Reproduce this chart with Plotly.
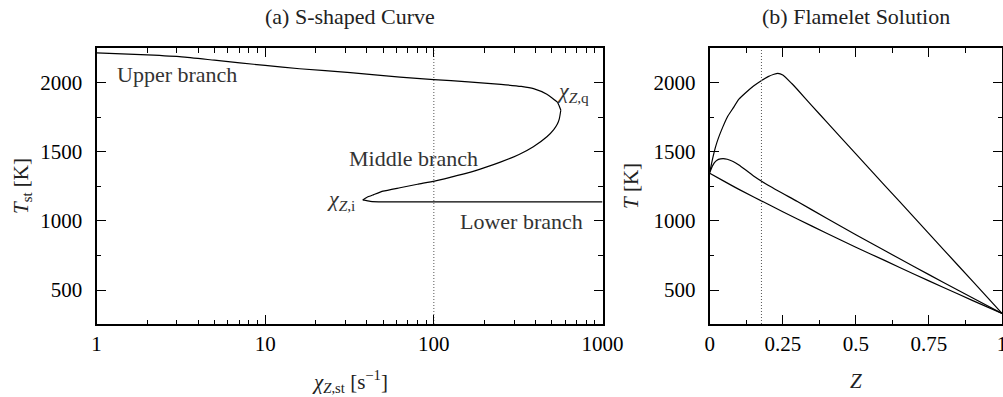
import numpy as np
import plotly.graph_objects as go

# ---- (a) S-shaped curve: stoichiometric temperature vs. scalar dissipation rate ----
chi_upper = [1, 2, 3.2, 5, 10, 16, 32, 63, 100, 160, 250, 330, 390, 468, 540, 566]
T_upper = [2215, 2200, 2186, 2162, 2124, 2100, 2072, 2040, 2022, 2005, 1987, 1972, 1956, 1915, 1858, 1800]

chi_middle = [566, 555, 540, 514, 468, 389, 320, 248, 200, 157, 125, 101, 80, 63, 50, 44, 40, 37.9]
T_middle = [1800, 1740, 1700, 1660, 1608, 1536, 1480, 1425, 1385, 1345, 1315, 1288, 1265, 1240, 1215, 1190, 1170, 1152]

chi_lower = [37.9, 42, 50, 100, 1000]
T_lower = [1152, 1142, 1138, 1138, 1138]

chi_ref = 100  # selected dissipation rate (dotted line)

# ---- (b) flamelet solutions T(Z) on the three branches ----
Z_burning = [0, 0.01, 0.02, 0.03, 0.045, 0.06, 0.08, 0.1, 0.125, 0.15, 0.175, 0.2, 0.22, 0.233,
             0.25, 0.28, 0.3, 0.35, 0.4, 0.5, 0.6, 0.7, 0.8, 0.9, 1.0]
T_burning = [1350, 1450, 1535, 1600, 1680, 1750, 1815, 1880, 1930, 1975, 2012, 2043, 2060, 2067,
             2055, 1995, 1950, 1832, 1716, 1484, 1254, 1024, 793, 563, 332]

Z_unstable = [0, 0.01, 0.02, 0.03, 0.046, 0.06, 0.08, 0.1, 0.15, 0.2, 0.3, 0.4, 0.5, 0.6, 0.7, 0.8, 0.9, 1.0]
T_unstable = [1350, 1400, 1430, 1445, 1451, 1446, 1430, 1405, 1325, 1258, 1140, 1020, 900, 784, 669, 555, 443, 332]

Z_extinct = [0, 0.05, 0.1, 0.2, 0.3, 0.4, 0.5, 0.6, 0.7, 0.8, 0.9, 1.0]
T_extinct = [1345, 1286, 1228, 1120, 1014, 911, 810, 713, 615, 519, 424, 332]

Z_st = 0.177  # stoichiometric mixture fraction (dotted line)

T_range = [255, 2250]

x_ticks_a = [1, 10, 100, 1000]
x_ticks_a_text = ["1", "10", "100", "1000"]
x_ticks_b = [0, 0.25, 0.5, 0.75, 1]
x_ticks_b_text = ["0", "0.25", "0.5", "0.75", "1"]
y_ticks = [500, 1000, 1500, 2000]
y_ticks_text = ["500", "1000", "1500", "2000"]

FONT = "'Liberation Serif', 'DejaVu Serif', 'Times New Roman', serif"
W, H = 1003, 397

line_style = dict(color="black", width=1.2)
dot_style = dict(color="#555555", width=1, dash="1px,2px")

fig = go.Figure()

for xs, ys in [(chi_upper, T_upper), (chi_middle, T_middle), (chi_lower, T_lower)]:
    fig.add_trace(go.Scatter(x=xs, y=ys, mode="lines", line=dict(**line_style, shape="spline", smoothing=0.5),
                             xaxis="x", yaxis="y", showlegend=False, hoverinfo="skip"))
fig.add_trace(go.Scatter(x=[chi_ref, chi_ref], y=T_range, mode="lines", line=dot_style,
                         xaxis="x", yaxis="y", showlegend=False, hoverinfo="skip"))

for xs, ys in [(Z_burning, T_burning), (Z_unstable, T_unstable), (Z_extinct, T_extinct)]:
    fig.add_trace(go.Scatter(x=xs, y=ys, mode="lines", line=dict(**line_style, shape="spline", smoothing=0.5),
                             xaxis="x2", yaxis="y2", showlegend=False, hoverinfo="skip"))
fig.add_trace(go.Scatter(x=[Z_st, Z_st], y=T_range, mode="lines", line=dot_style,
                         xaxis="x2", yaxis="y2", showlegend=False, hoverinfo="skip"))

tick_font = dict(family=FONT, size=21, color="black")
common = dict(showline=True, linecolor="black", linewidth=2, mirror="allticks",
              ticks="inside", ticklen=9, tickwidth=1.3, tickcolor="black",
              showgrid=False, zeroline=False, tickfont=tick_font, automargin=False,
              ticklabeloverflow="allow")
minor_common = dict(ticks="inside", ticklen=4.5, tickwidth=1.2, tickcolor="black", showgrid=False)

minor_log = [m * 10 ** k for k in range(3) for m in range(2, 10)]

# plot areas in pixels
ax_a = (96.5, 602.5)
ax_b = (709.7, 1002)
ax_y = (48, 324)
xd_a = [ax_a[0] / W, ax_a[1] / W]
xd_b = [ax_b[0] / W, ax_b[1] / W]
yd = [(H - ax_y[1]) / H, (H - ax_y[0]) / H]

fig.update_layout(
    width=W, height=H,
    margin=dict(l=0, r=0, t=0, b=0, autoexpand=False),
    paper_bgcolor="white", plot_bgcolor="white",
    font=dict(family=FONT),
    xaxis=dict(**common, type="log", range=[0, 3], domain=xd_a, anchor="y",
               tickvals=x_ticks_a, ticktext=x_ticks_a_text, ticklabelstandoff=0,
               minor=dict(**minor_common, tickvals=minor_log)),
    yaxis=dict(**common, range=T_range, domain=yd, anchor="x",
               tickvals=y_ticks, ticktext=y_ticks_text, ticklabelstandoff=8,
               minor=dict(**minor_common, dtick=250)),
    xaxis2=dict(**common, range=[0, 1], domain=xd_b, anchor="y2",
                tickvals=x_ticks_b, ticktext=x_ticks_b_text, ticklabelstandoff=0,
                minor=dict(**minor_common, dtick=0.125)),
    yaxis2=dict(**common, range=T_range, domain=yd, anchor="x2",
                tickvals=y_ticks, ticktext=y_ticks_text, ticklabelstandoff=8,
                minor=dict(**minor_common, dtick=250)),
)

title_font = dict(family=FONT, size=22, color="#222222")
text_font = dict(family=FONT, size=21, color="#222222")
label_font = dict(family=FONT, size=22, color="#333333")


def paper_ann(text, x, y, font=text_font, **kw):
    fig.add_annotation(text=text, x=x / W, y=(H - y) / H, xref="paper", yref="paper",
                       xanchor="center", yanchor="middle",
                       showarrow=False, font=font, **kw)


# panel titles
paper_ann("(a) S-shaped Curve", (ax_a[0] + ax_a[1]) / 2, 16, font=title_font)
paper_ann("(b) Flamelet Solution", (ax_b[0] + ax_b[1]) / 2, 16, font=title_font)

# axis titles
paper_ann("<i>χ</i><sub><i>Z</i>,st</sub> [s<sup>−1</sup>]", (ax_a[0] + ax_a[1]) / 2, 381)
paper_ann("<i>Z</i>", (ax_b[0] + ax_b[1]) / 2, 381)
paper_ann("<i>T</i><sub>st</sub> [K]", 22, (ax_y[0] + ax_y[1]) / 2, textangle=-90)
paper_ann("<i>T</i> [K]", 631, (ax_y[0] + ax_y[1]) / 2, textangle=-90)


def data_ann(text, chi, T, **kw):
    fig.add_annotation(text=text, x=np.log10(chi), y=T, xref="x", yref="y",
                       yanchor="middle", showarrow=False, font=label_font, **kw)


# branch labels
data_ann("Upper branch", 1.29, 2059, xanchor="left")
data_ann("<i>χ</i><sub><i>Z</i>,q</sub>", 520, 1930, xanchor="left")
data_ann("Middle branch", 30.5, 1448, xanchor="left")
data_ann("<i>χ</i><sub><i>Z</i>,i</sub>", 35, 1153, xanchor="right")
data_ann("Lower branch", 787, 995, xanchor="right")

fig.write_html("out.html")
